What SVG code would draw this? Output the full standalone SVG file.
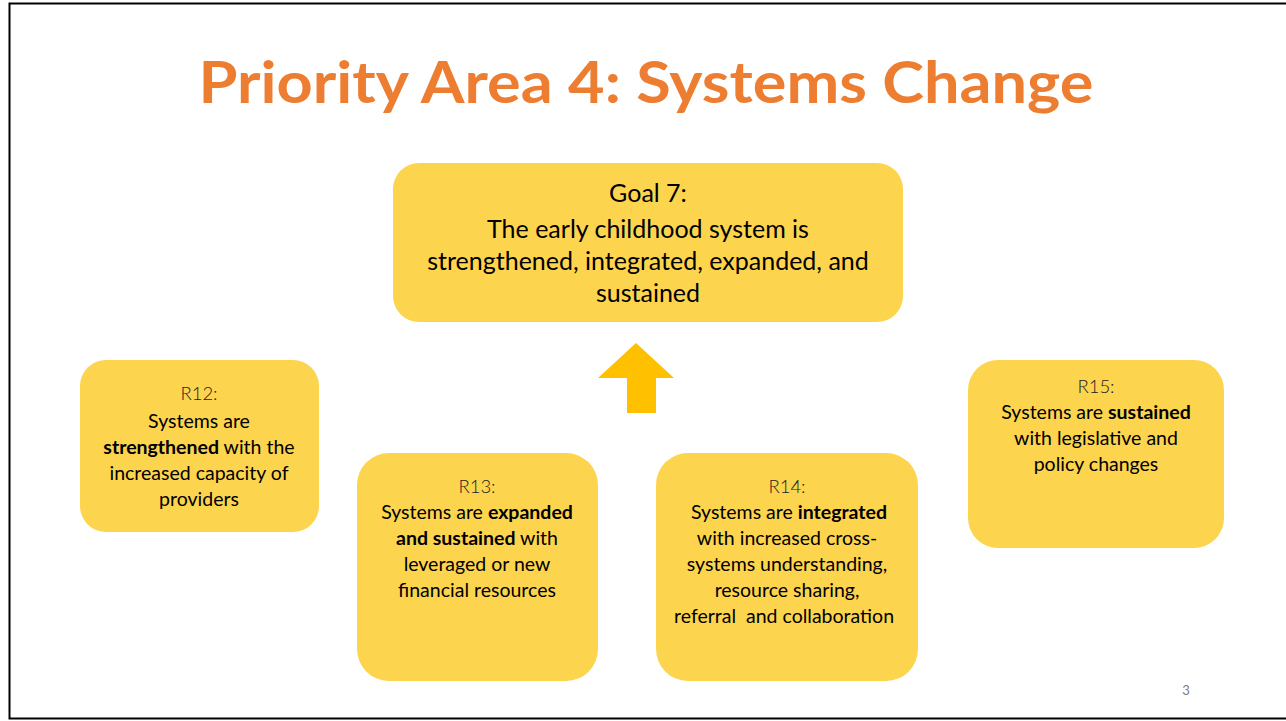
<svg xmlns="http://www.w3.org/2000/svg" width="1286" height="721" viewBox="0 0 1286 721">
<style>
.box{fill:#FDD44E}
.t{font-family:Lato,"Liberation Sans",sans-serif;fill:#000;text-anchor:middle}
.g{font-size:25px}
.r{font-size:19.5px}
.rl{font-size:18.5px;font-weight:300;fill:#222}
.b{font-weight:bold}
</style>
<rect x="0" y="0" width="1286" height="721" fill="#fff"/>
<rect x="9.5" y="3.5" width="1285" height="715" fill="none" stroke="#000" stroke-width="2"/>
<text x="646" y="103" font-family="Lato,'Liberation Sans',sans-serif" font-weight="bold" font-size="58" fill="#ED7D31" text-anchor="middle" textLength="895" lengthAdjust="spacingAndGlyphs">Priority Area 4: Systems Change</text>
<g id="goal7">
<rect class="box" x="393" y="163" width="510" height="159" rx="26"/>
<text class="t g" x="648" y="202">Goal 7:</text>
<text class="t g" x="648" y="238">The early childhood system is</text>
<text class="t g" x="648" y="270">strengthened, integrated, expanded, and</text>
<text class="t g" x="648" y="302">sustained</text>
</g>
<g id="connectors">
<polygon points="636,343 674,378 656,378 656,413 627,413 627,378 598,378" fill="#FFC000"/>
</g>
<g id="r12">
<rect class="box" x="80" y="360" width="239" height="172" rx="26"/>
<text class="t rl" x="199" y="400">R12:</text>
<text class="t r" x="199" y="428">Systems are</text>
<text class="t r" x="199" y="454"><tspan class="b">strengthened</tspan> with the</text>
<text class="t r" x="199" y="480">increased capacity of</text>
<text class="t r" x="199" y="506">providers</text>
</g>
<g id="r13">
<rect class="box" x="357" y="453" width="241" height="228" rx="32"/>
<text class="t rl" x="477" y="493">R13:</text>
<text class="t r" x="477" y="519">Systems are <tspan class="b">expanded</tspan></text>
<text class="t r" x="477" y="545"><tspan class="b">and sustained</tspan> with</text>
<text class="t r" x="477" y="571">leveraged or new</text>
<text class="t r" x="477" y="597">financial resources</text>
</g>
<g id="r14">
<rect class="box" x="656" y="453" width="262" height="228" rx="32"/>
<text class="t rl" x="787" y="493">R14:</text>
<text class="t r" x="789" y="519">Systems are <tspan class="b">integrated</tspan></text>
<text class="t r" x="787" y="545">with increased cross-</text>
<text class="t r" x="787" y="571">systems understanding,</text>
<text class="t r" x="787" y="597">resource sharing,</text>
<text class="t r" x="784" y="623">referral&#160; and collaboration</text>
</g>
<g id="r15">
<rect class="box" x="968" y="360" width="256" height="188" rx="30"/>
<text class="t rl" x="1096" y="393">R15:</text>
<text class="t r" x="1096" y="419">Systems are <tspan class="b">sustained</tspan></text>
<text class="t r" x="1096" y="445">with legislative and</text>
<text class="t r" x="1096" y="471">policy changes</text>
</g>
<text x="1186" y="695" font-family="Lato,'Liberation Sans',sans-serif" font-size="13" fill="#808080" text-anchor="middle">3</text>
</svg>
